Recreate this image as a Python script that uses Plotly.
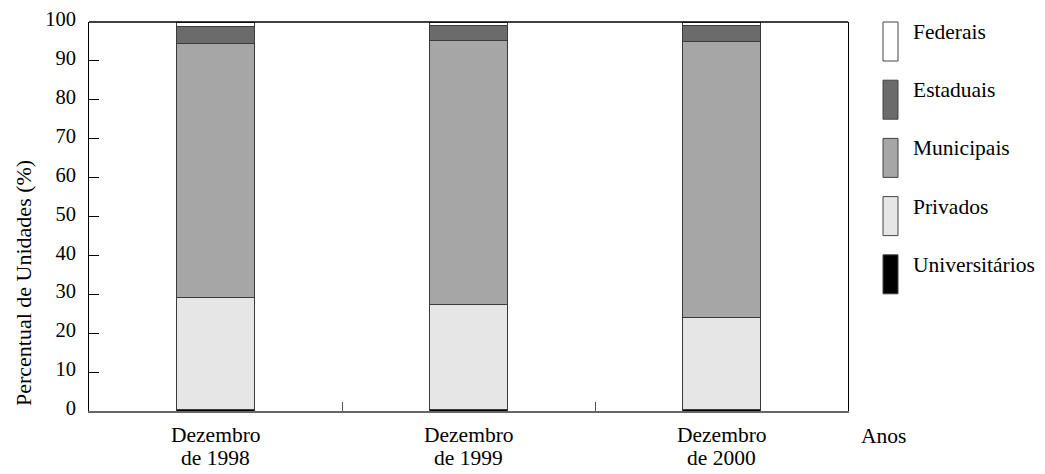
import plotly.graph_objects as go

# ---- data ----
categories = ["Dezembro<br>de 1998", "Dezembro<br>de 1999", "Dezembro<br>de 2000"]
universitarios = [0.5, 0.5, 0.5]
privados = [28.7, 26.9, 23.6]
municipais = [65.3, 67.9, 71.0]
estaduais = [4.3, 3.9, 4.1]
federais = [1.2, 0.8, 0.8]
y_ticks = [0, 10, 20, 30, 40, 50, 60, 70, 80, 90, 100]
y_title = "Percentual de Unidades (%)"
x_title = "Anos"

series = [
    ("Universitários", universitarios, "#000000"),
    ("Privados", privados, "#e6e6e6"),
    ("Municipais", municipais, "#a6a6a6"),
    ("Estaduais", estaduais, "#6b6b6b"),
    ("Federais", federais, "#ffffff"),
]

FONT = "Liberation Serif"
x_pos = list(range(len(categories)))

fig = go.Figure()
for name, vals, col in series:
    fig.add_trace(go.Bar(
        x=x_pos, y=vals, name=name, width=0.308,
        marker=dict(color=col, line=dict(color="#3a3a3a", width=1)),
        showlegend=False,
    ))

# page body has an 8px margin: compensate so plot area sits at window px
OFF = 8
PL, PT, PR, PB = 89, 22, 848, 411          # plot area in window pixels
W, H = 1045 - OFF, 474 - OFF
L, T = PL - OFF, PT - OFF
R, B = W - (PR - OFF), H - (PB - OFF)
pw, ph = PR - PL, PB - PT


def px_x(px):
    return (px - PL) / pw


def px_y(py):
    return (PB - py) / ph


shapes = [dict(type="line", xref="paper", yref="paper", x0=0, x1=1, y0=1, y1=1,
               line=dict(color="black", width=1.5))]
annotations = []

# custom legend (top to bottom: reverse stacking order)
for i, (name, vals, col) in enumerate(reversed(series)):
    top_px = 22 + i * 58.2
    shapes.append(dict(type="rect", xref="paper", yref="paper",
                       x0=px_x(883), x1=px_x(898),
                       y0=px_y(top_px + 39), y1=px_y(top_px),
                       fillcolor=col, line=dict(color="#444444", width=1)))
    annotations.append(dict(text=name, xref="paper", yref="paper",
                            x=px_x(911), y=px_y(top_px + 10),
                            xanchor="left", yanchor="middle", showarrow=False,
                            font=dict(family=FONT, size=21.5, color="black")))

# category labels
for xp, lab in zip(x_pos, categories):
    parts = lab.split("<br>")
    for j, p in enumerate(parts):
        annotations.append(dict(text=p, x=xp, xref="x", y=0, yref="paper",
                                yanchor="middle", yshift=-(24 + 23 * j),
                                showarrow=False,
                                font=dict(family=FONT, size=21.5, color="black")))

annotations.append(dict(text=x_title, xref="paper", yref="paper",
                        x=px_x(859), y=0, yshift=-25, xanchor="left",
                        yanchor="middle", showarrow=False,
                        font=dict(family=FONT, size=21.5, color="black")))
annotations.append(dict(text=y_title, xref="paper", yref="paper",
                        x=px_x(23), y=px_y(283), textangle=-90,
                        xanchor="center", yanchor="middle", showarrow=False,
                        font=dict(family=FONT, size=22, color="black")))

fig.update_layout(
    width=W, height=H,
    margin=dict(l=L, r=R, t=T, b=B, autoexpand=False),
    paper_bgcolor="white", plot_bgcolor="white",
    barmode="stack",
    font=dict(family=FONT, size=20, color="black"),
    shapes=shapes, annotations=annotations,
    xaxis=dict(range=[-0.5, 2.5], tickvals=[0.5, 1.5], ticktext=["", ""],
               ticks="inside", ticklen=9, tickcolor="#555555", tickwidth=1,
               showline=True, linecolor="#666666", linewidth=1.5,
               showgrid=False, zeroline=False, automargin=False),
    yaxis=dict(range=[0, 100], tickvals=y_ticks, ticks="inside", ticklen=10,
               tickcolor="black", tickwidth=1, showline=True, linecolor="black",
               linewidth=1, mirror=True, showgrid=False, zeroline=False,
               ticklabelstandoff=8, ticklabelshift=-3, automargin=False,
               ticklabeloverflow="allow",
               tickfont=dict(family=FONT, size=20.5, color="black")),
)

fig.write_html("out.html")
